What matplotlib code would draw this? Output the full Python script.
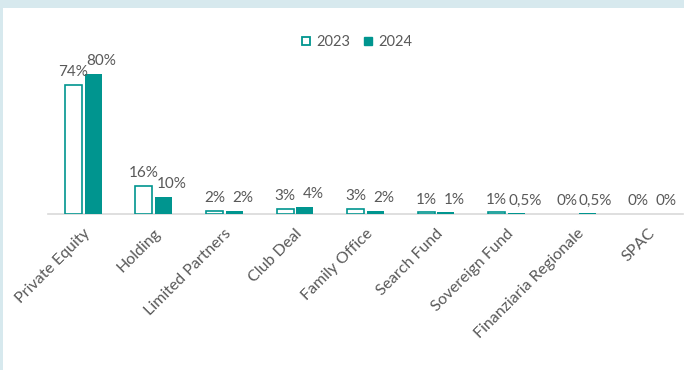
import numpy as np
import matplotlib
matplotlib.use("Agg")
import matplotlib.pyplot as plt
from matplotlib.lines import Line2D

categories = ["Private Equity", "Holding", "Limited Partners", "Club Deal",
              "Family Office", "Search Fund", "Sovereign Fund",
              "Finanziaria Regionale", "SPAC"]
share_2023 = [74, 16, 2, 3, 3, 1, 1, 0, 0]
share_2024 = [80, 10, 2, 4, 2, 1, 0.5, 0.5, 0]
years = ["2023", "2024"]

TEAL = "#00958F"
GREY = "#595959"

plt.rcParams["font.family"] = ["Lato", "DejaVu Sans"]

fig = plt.figure(figsize=(6.84, 3.70), dpi=100)
fig.patch.set_facecolor("#D7E9EE")
# white chart area inside the pale blue frame
fig.patches.append(plt.Rectangle((3 / 684, 0), 1, 1 - 8 / 370,
                                 transform=fig.transFigure,
                                 facecolor="white", edgecolor="none", zorder=-10))

ax = fig.add_axes([48 / 684, 1 - 214 / 370, 635 / 684, 175 / 370])
ax.set_facecolor("none")

x = np.arange(len(categories))
w = 0.24
off = 0.14
# empty categories get no outline at all
edges = [TEAL if v > 0 else "none" for v in share_2023]
b23 = ax.bar(x - off, share_2023, w, facecolor="white", edgecolor=edges,
             linewidth=1.2, zorder=3)
b24 = ax.bar(x + off, share_2024, w, color=TEAL, zorder=3)


def pct(v):
    return f"{v:g}%".replace(".", ",")


for xi, v in zip(x, share_2023):
    ax.annotate(pct(v), (xi - off, v), xytext=(0, 4), textcoords="offset points",
                ha="center", va="bottom", fontsize=11, color=GREY)
for xi, v in zip(x, share_2024):
    ax.annotate(pct(v), (xi + off, v), xytext=(6, 4), textcoords="offset points",
                ha="center", va="bottom", fontsize=11, color=GREY)

ax.set_xlim(-0.5, len(categories) - 0.5)
ax.set_ylim(0, 100)
ax.set_yticks([])
for s in ["top", "right", "left"]:
    ax.spines[s].set_visible(False)
ax.spines["bottom"].set_color("#D9D9D9")
ax.spines["bottom"].set_linewidth(1.2)

ax.set_xticks(x)
ax.set_xticklabels(categories, rotation=45, ha="right", va="top",
                   rotation_mode="anchor", fontsize=11.5, color=GREY)
ax.tick_params(axis="x", length=0, pad=9)

handles = [
    Line2D([], [], marker="s", linestyle="none", markersize=6,
           markerfacecolor="white", markeredgecolor=TEAL, markeredgewidth=1.3),
    Line2D([], [], marker="s", linestyle="none", markersize=6,
           markerfacecolor=TEAL, markeredgecolor=TEAL),
]
fig.legend(handles, years, loc="center", bbox_to_anchor=(356 / 684, 1 - 42 / 370),
           ncol=2, frameon=False, fontsize=10.5, labelcolor=GREY,
           handlelength=0.8, handletextpad=0.3, columnspacing=0.8)

fig.savefig("out.png", dpi=100)
